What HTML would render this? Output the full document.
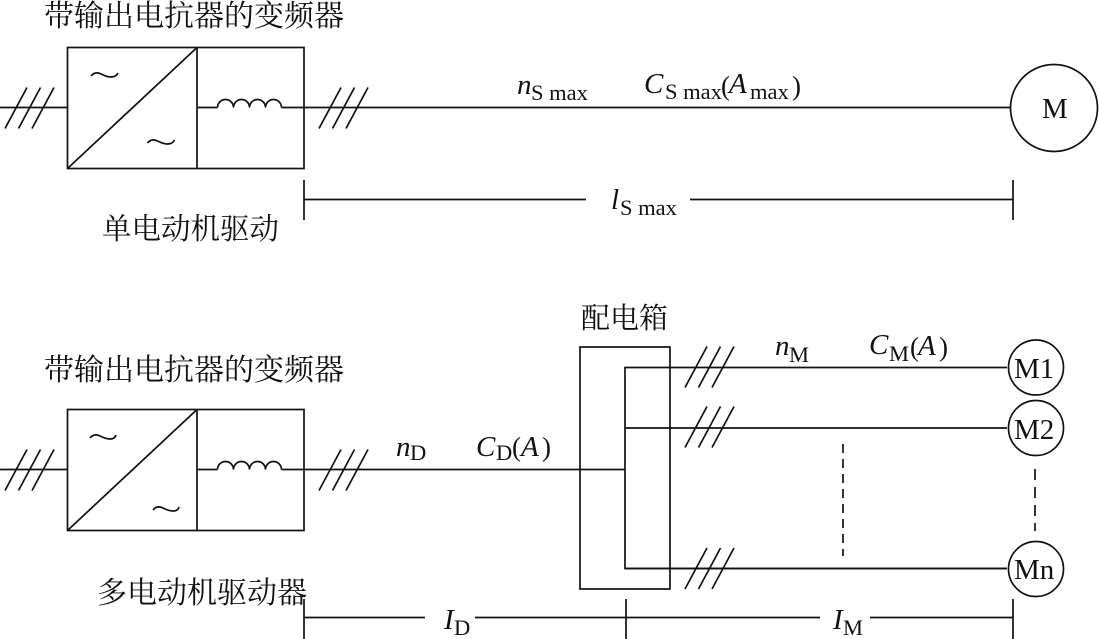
<!DOCTYPE html>
<html>
<head>
<meta charset="utf-8">
<style>
html,body{margin:0;padding:0;background:#fff;width:1099px;height:639px;overflow:hidden}
svg{display:block}
.c{font-family:"Liberation Serif","Noto Serif CJK SC",serif;fill:#111}
.i{font-family:"Liberation Serif",serif;font-style:italic;font-size:29px;fill:#111}
.s{font-family:"Liberation Serif",serif;font-size:22.5px;fill:#111}
.m{font-family:"Liberation Serif",serif;font-size:29px;fill:#111}
.p{font-family:"Liberation Serif",serif;font-size:27px;fill:#111}
line,path,rect,circle{fill:none;stroke:#111;stroke-width:1.7}
</style>
</head>
<body>
<svg width="1099" height="639" viewBox="0 0 1099 639" xmlns="http://www.w3.org/2000/svg">
<defs>
<g id="ticks">
<line x1="0" y1="20.5" x2="22" y2="-20.5"/>
<line x1="13.5" y1="20.5" x2="35.5" y2="-20.5"/>
<line x1="27" y1="20.5" x2="49" y2="-20.5"/>
</g>
<g id="ind">
<path d="M217.5 0a8 8 0 0 1 16 0a8 8 0 0 1 16 0a8 8 0 0 1 16 0a8 8 0 0 1 16 0"/>
</g>
</defs>

<!-- top section -->
<text class="c" x="44" y="26" font-size="30">带输出电抗器的变频器</text>
<rect x="67.5" y="47.5" width="236.5" height="121"/>
<line x1="197" y1="47.5" x2="197" y2="168.5"/>
<line x1="67.5" y1="168.5" x2="197" y2="47.5"/>
<line x1="0" y1="107.5" x2="67.5" y2="107.5"/>
<line x1="197" y1="107.5" x2="217.5" y2="107.5"/>
<g transform="translate(0,107.5)"><use href="#ind"/></g>
<line x1="281.5" y1="107.5" x2="1011" y2="107.5"/>
<use href="#ticks" x="5" y="108"/>
<use href="#ticks" x="319" y="108"/>
<path d="M91 76q4-5 10-2t10 3q5 0 7-4" stroke-width="1"/>
<path d="M147.5 143q4-5 10-2t10 3q5 0 7-4" stroke-width="1"/>
<circle cx="1054" cy="108" r="43.5"/>
<text class="m" x="1042" y="118">M</text>
<text class="i" x="517" y="94">n</text><text class="s" x="531" y="100">S max</text>
<text class="i" x="644" y="93">C</text><text class="s" x="665" y="99">S max</text>
<text class="p" x="721" y="95">(</text><text class="i" x="729" y="93">A</text><text class="s" x="750" y="99">max</text><text class="p" x="792" y="95">)</text>

<line x1="304" y1="180" x2="304" y2="220"/>
<line x1="1013" y1="180" x2="1013" y2="220"/>
<line x1="304" y1="199.5" x2="586" y2="199.5"/>
<line x1="690" y1="199.5" x2="1013" y2="199.5"/>
<text class="i" x="611" y="209">l</text><text class="s" x="620" y="215">S max</text>
<text class="c" x="102" y="239" font-size="29.5">单电动机驱动</text>

<!-- lower section -->
<text class="c" x="44" y="380" font-size="30">带输出电抗器的变频器</text>
<rect x="67.5" y="409.5" width="236.5" height="121"/>
<line x1="197" y1="409.5" x2="197" y2="530.5"/>
<line x1="67.5" y1="530.5" x2="197" y2="409.5"/>
<line x1="0" y1="469.5" x2="67.5" y2="469.5"/>
<line x1="197" y1="469.5" x2="217.5" y2="469.5"/>
<g transform="translate(0,469.5)"><use href="#ind"/></g>
<line x1="281.5" y1="469.5" x2="625" y2="469.5"/>
<use href="#ticks" x="5" y="470"/>
<use href="#ticks" x="319" y="470"/>
<path d="M90 438q4-5 10-2t10 3q5 0 6-4" stroke-width="1"/>
<path d="M153 510q4-5 10-2t10 3q5 0 6-4" stroke-width="1"/>
<text class="i" x="396" y="456">n</text><text class="s" x="410" y="460">D</text>
<text class="i" x="476" y="456">C</text><text class="s" x="496" y="460">D</text>
<text class="p" x="512" y="456">(</text><text class="i" x="521" y="456">A</text><text class="p" x="542" y="456">)</text>

<text class="c" x="581" y="328" font-size="29">配电箱</text>
<rect x="580" y="347" width="90" height="242" stroke-width="2"/>
<path d="M1007 367.5H625V568.5H1007"/>
<line x1="625" y1="428" x2="1007" y2="428" stroke-width="2"/>
<line x1="625" y1="568.5" x2="1007" y2="568.5" stroke-width="2"/>
<use href="#ticks" x="685" y="367"/>
<use href="#ticks" x="685" y="427"/>
<use href="#ticks" x="685" y="568.5"/>
<line x1="843" y1="444" x2="843" y2="556" stroke-dasharray="9 6"/>
<line x1="1035" y1="469" x2="1035" y2="531" stroke-dasharray="11 7" stroke-width="2"/>
<circle cx="1036" cy="367.5" r="27.5"/>
<circle cx="1036" cy="428" r="27.5"/>
<circle cx="1036" cy="569" r="27.5"/>
<text class="m" x="1014" y="378">M1</text>
<text class="m" x="1014" y="439">M2</text>
<text class="m" x="1014" y="579">Mn</text>
<text class="i" x="775" y="355">n</text><text class="s" x="789" y="362">M</text>
<text class="i" x="869" y="354">C</text><text class="s" x="889" y="361">M</text>
<text class="p" x="910" y="356">(</text><text class="i" x="918" y="355">A</text><text class="p" x="939" y="356">)</text>

<text class="c" x="97" y="603" font-size="30">多电动机驱动器</text>
<line x1="304" y1="599" x2="304" y2="639"/>
<line x1="626" y1="599" x2="626" y2="639"/>
<line x1="1013" y1="599" x2="1013" y2="639"/>
<line x1="304" y1="617.5" x2="425" y2="617.5"/>
<line x1="475" y1="617.5" x2="820" y2="617.5"/>
<line x1="870" y1="617.5" x2="1013" y2="617.5"/>
<text class="i" x="444" y="629">I</text><text class="s" x="454" y="635">D</text>
<text class="i" x="833" y="629">I</text><text class="s" x="843" y="635">M</text>
</svg>
</body>
</html>
